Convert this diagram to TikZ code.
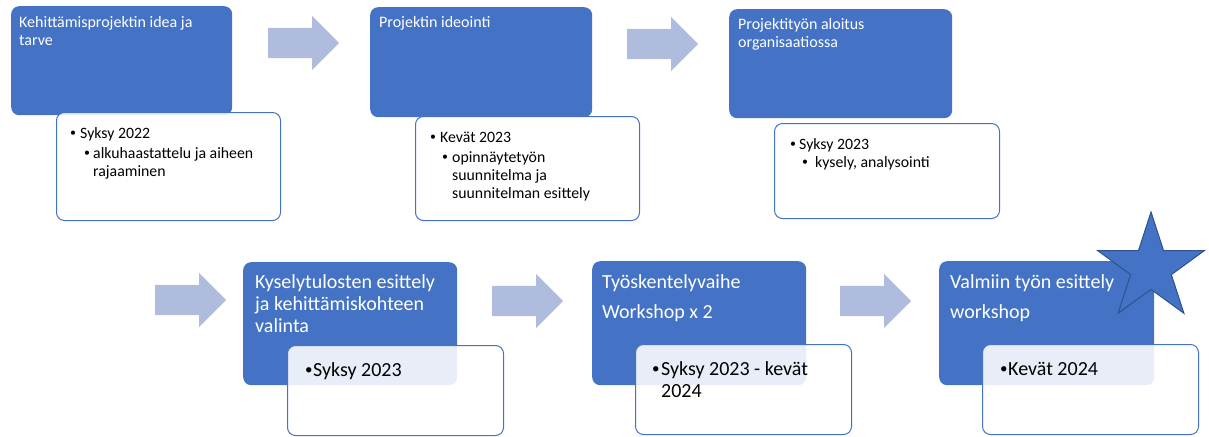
\documentclass[tikz,border=0pt]{standalone}
\usepackage{fontspec}
\setmainfont{Carlito}
\usetikzlibrary{positioning,shapes.arrows,shapes.geometric}
\definecolor{phase}{RGB}{68,114,196}
\definecolor{flow}{RGB}{176,188,222}
\definecolor{starline}{RGB}{47,82,143}
\newcommand{\bul}[1]{\makebox[#1][l]{\raisebox{0.1em}{\scalebox{0.75}{\textbullet}}}}
\begin{document}
\begin{tikzpicture}[x=1pt,y=-1pt,
  phasebox/.style={fill=phase,rounded corners=8pt,anchor=north west,inner sep=0pt},
  notebox/.style={draw=phase,line width=1pt,fill=white,fill opacity=0.88,rounded corners=8pt,anchor=north west,inner sep=0pt},
  flowarrow/.style={single arrow,fill=flow,inner xsep=0pt,inner ysep=15pt,single arrow head extend=12pt,single arrow tip angle=90,minimum height=71pt,anchor=tail},
  toptitle/.style={text=white,align=left,inner sep=0pt,anchor=base west,font=\fontsize{16}{17.8}\selectfont},
  lowtitle/.style={text=white,align=left,inner sep=0pt,anchor=base west,font=\fontsize{20}{22}\selectfont},
  topnote/.style={align=left,inner sep=0pt,anchor=base west,font=\fontsize{15.8}{18}\selectfont},
  lownote/.style={align=left,inner sep=0pt,anchor=base west,font=\fontsize{20}{22}\selectfont},
  ]
\useasboundingbox (0,0) rectangle (1209,436);

\node[phasebox,minimum width=221pt,minimum height=109pt] (idea) at (11,6) {};
\node[phasebox,minimum width=222pt,minimum height=110pt] (ideointi) at (370,7) {};
\node[phasebox,minimum width=223pt,minimum height=109pt] (aloitus) at (729,9) {};
\node[phasebox,minimum width=214pt,minimum height=123pt] (tulokset) at (243,262) {};
\node[phasebox,minimum width=214pt,minimum height=124pt] (tyo) at (592,261) {};
\node[phasebox,minimum width=215pt,minimum height=124pt] (valmis) at (939,261) {};

\node[flowarrow] (flow1) at (268,43) {};
\node[flowarrow] (flow2) at (627,44) {};
\node[flowarrow] (flow3) at (155,300) {};
\node[flowarrow] (flow4) at (492,301) {};
\node[flowarrow] (flow5) at (840,301) {};

\node[notebox,minimum width=224pt,minimum height=108pt] (ideanote) at (56,112) {};
\node[notebox,minimum width=224pt,minimum height=104pt] (ideointinote) at (415,116) {};
\node[notebox,minimum width=225pt,minimum height=95pt] (aloitusnote) at (774,123) {};
\node[notebox,minimum width=216pt,minimum height=90pt] (tuloksetnote) at (287,345) {};
\node[notebox,minimum width=216pt,minimum height=90pt] (tyonote) at (635,344) {};
\node[notebox,minimum width=216pt,minimum height=90pt] (valmisnote) at (982,344) {};

\node[star,star points=5,star point ratio=2.618,minimum size=112pt,inner sep=0pt,fill=phase,draw=starline,line width=1pt] (tahti) at (1151,268) {};

\node[toptitle,below right=39.8pt and 8pt of idea.north west,anchor=base west] (ideatitle) {Kehittämisprojektin idea ja\\tarve};
\node[toptitle,below right=21pt and 9pt of ideointi.north west,anchor=base west] (ideointititle) {Projektin ideointi};
\node[toptitle,below right=38.8pt and 9pt of aloitus.north west,anchor=base west] (aloitustitle) {Projektityön aloitus\\organisaatiossa};
\node[lowtitle,below right=70pt and 12pt of tulokset.north west,anchor=base west] (tuloksettitle) {Kyselytulosten esittely\\ja kehittämiskohteen\\valinta};
\node[lowtitle,below right=57pt and 10pt of tyo.north west,anchor=base west] (tyotitle) {Työskentelyvaihe\\[8pt]Workshop x 2};
\node[lowtitle,below right=57pt and 11pt of valmis.north west,anchor=base west] (valmistitle) {Valmiin työn esittely\\[8pt]workshop};

\node[topnote,below right=64pt and 14pt of ideanote.north west,anchor=base west] (ideatext) {\bul{10pt}Syksy 2022\\[2pt]\hspace*{14pt}\bul{9pt}alkuhaastattelu ja aiheen\\\hspace*{23pt}rajaaminen};
\node[topnote,below right=82pt and 15pt of ideointinote.north west,anchor=base west] (ideointitext) {\bul{10pt}Kevät 2023\\[2pt]\hspace*{12pt}\bul{10pt}opinnäytetyön\\\hspace*{22pt}suunnitelma ja\\\hspace*{22pt}suunnitelman esittely};
\node[topnote,below right=44pt and 16pt of aloitusnote.north west,anchor=base west] (aloitustext) {\bul{9pt}Syksy 2023\\\hspace*{12pt}\bul{13pt}kysely, analysointi};
\node[lownote,below right=31pt and 18pt of tuloksetnote.north west,anchor=base west] (tuloksettext) {\bul{8pt}Syksy 2023};
\node[lownote,below right=53pt and 17pt of tyonote.north west,anchor=base west] (tyotext) {\bul{9pt}Syksy 2023 - kevät\\\hspace*{9pt}2024};
\node[lownote,below right=31pt and 18pt of valmisnote.north west,anchor=base west] (valmistext) {\bul{8pt}Kevät 2024};
\end{tikzpicture}
\end{document}
